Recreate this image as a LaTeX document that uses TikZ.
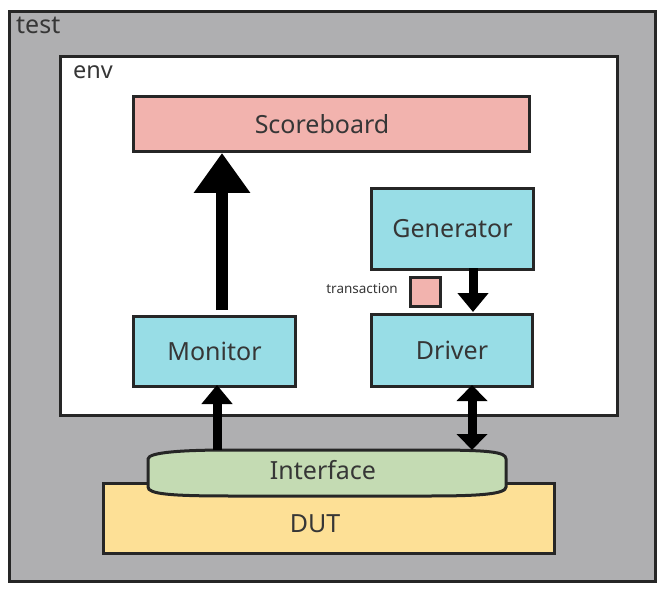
\documentclass[tikz,border=0pt]{standalone}
\usepackage{fontspec}
\setmainfont{Noto Sans}
\usetikzlibrary{arrows.meta}
\definecolor{bord}{HTML}{262626}
\definecolor{txt}{HTML}{363636}
\definecolor{testgray}{HTML}{AFAFB1}
\definecolor{cyanbox}{HTML}{98DDE6}
\definecolor{pinkbox}{HTML}{F2B3AE}
\definecolor{greenbox}{HTML}{C4DBB3}
\definecolor{yellowbox}{HTML}{FDE096}
\tikzset{
  box/.style={draw=bord, line width=3pt, inner sep=0pt, text=txt, font=\fontsize{25}{28}\selectfont},
  lbl/.style={text=txt, inner sep=0pt},
  big/.style={font=\fontsize{25}{28}\selectfont},
  fat/.style={line width=12pt, -{Triangle[width=54pt,length=40pt]}},
  thin/.style={line width=9pt, -{Triangle[width=30pt,length=19pt]}},
  both/.style={line width=9pt, {Triangle[width=30pt,length=16pt]}-{Triangle[width=30pt,length=16pt]}},
}
\begin{document}
\begin{tikzpicture}[x=1pt,y=-1pt]
\useasboundingbox (0,0) rectangle (662,591);
% test
\node[box, fill=testgray, minimum width=646pt, minimum height=570pt, anchor=north west] (test) at (8,10) {};
\node[lbl, anchor=base west, font=\fontsize{25}{28}\selectfont] (testl) at (16,34) {test};
% env
\node[box, fill=white, minimum width=557pt, minimum height=359pt, anchor=north west] (env) at (59,55) {};
\node[lbl, anchor=base west, font=\fontsize{23.5}{26}\selectfont] (envl) at (73,79) {env};
% scoreboard
\node[box, fill=pinkbox, minimum width=396pt, minimum height=55pt, anchor=north west] (sb) at (132,95) {};
\node[lbl, big] (sbl) at (322,124) {Scoreboard};
% generator
\node[box, fill=cyanbox, minimum width=162pt, minimum height=81pt, anchor=north west] (gen) at (370,187) {Generator};
% driver
\node[box, fill=cyanbox, minimum width=161pt, minimum height=72pt, anchor=north west] (drv) at (370,313) {Driver};
% monitor
\node[box, fill=cyanbox, minimum width=162pt, minimum height=70pt, anchor=north west] (mon) at (132,315) {Monitor};
% transaction
\node[box, fill=pinkbox, minimum width=30pt, minimum height=29pt, anchor=north west] (tr) at (409,276) {};
\node[lbl, anchor=base east, font=\fontsize{13.5}{15}\selectfont] (trl) at (398,293) {transaction};
% DUT
\node[box, fill=yellowbox, minimum width=451pt, minimum height=70pt, anchor=north west] (dut) at (102,482) {};
\node[lbl, big] (dutl) at (315,524) {DUT};
% interface
\draw[draw=bord, line width=3pt, fill=greenbox]
  (148,459) .. controls (148,452) and (185,450) .. (230,450) -- (430,450)
  .. controls (490,450) and (506,452) .. (506,459) -- (506,487)
  .. controls (506,494) and (480,496) .. (430,496) -- (230,496)
  .. controls (170,496) and (148,494) .. (148,487) -- cycle;
\node[minimum width=358pt, minimum height=46pt, inner sep=0pt, anchor=north west] (iface) at (148,450) {};
\node[lbl, big] (ifl) at (323,470) {Interface};
% arrows
\coordinate (mtop) at (222,310);
\draw[fat] (mtop) -- (mtop |- sb.south);
\draw[thin] (473,268) -- (473,312);
\draw[thin] (iface.north -| 217,0) -- (217,385);
\draw[both] (472,385) -- (472,450);
\end{tikzpicture}
\end{document}
